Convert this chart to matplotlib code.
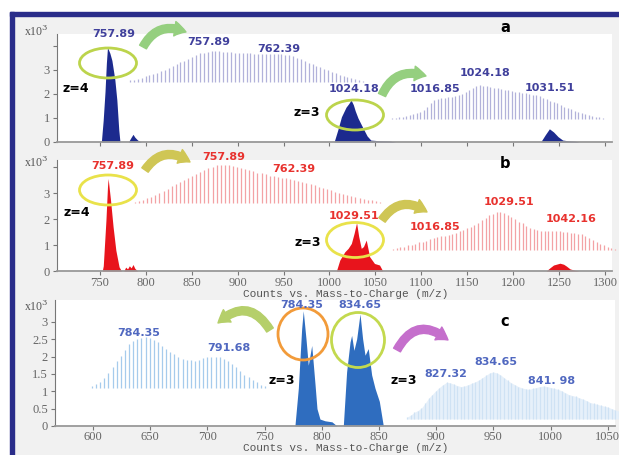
import numpy as np
import matplotlib
matplotlib.use("Agg")
import matplotlib.pyplot as plt
from matplotlib.patches import Ellipse, FancyArrowPatch, Rectangle

W, H = 619, 455

# ---- main spectra (m/z, counts x10^3) ----
a_pk1_mz = [751.5, 753.5, 755.5, 757.0, 758.2, 759.2, 760.8, 763.0, 766.2, 768.4, 770.5, 771.8]
a_pk1_int = [0, 0.9, 2.1, 3.3, 3.95, 3.85, 3.7, 3.4, 2.6, 1.75, 0.5, 0]
a_bump_mz = [781, 784, 786, 788, 791, 795]
a_bump_int = [0, 0.2, 0.32, 0.2, 0.08, 0]
a_pk2_mz = [1005, 1009, 1013, 1018, 1021, 1023.5, 1026, 1028, 1031, 1036.5, 1041, 1045, 1055, 1065, 1072]
a_pk2_int = [0, 0.5, 1.05, 1.45, 1.6, 1.75, 1.55, 1.3, 1.0, 0.58, 0.25, 0.08, 0.05, 0.04, 0]
a_pk3_mz = [1230, 1235, 1239.5, 1244, 1249, 1254, 1260, 1268, 1272]
a_pk3_int = [0, 0.3, 0.55, 0.42, 0.22, 0.08, 0.05, 0.03, 0]

b_pk1_mz = [752.5, 753.6, 756.5, 758.2, 758.9, 761.5, 764.3, 767.3, 770.8, 773.4]
b_pk1_int = [0, 0.2, 1.95, 3.25, 3.56, 2.73, 1.7, 0.8, 0.16, 0]
b_bump_mz = [776, 778, 780, 782, 784, 786, 788, 791]
b_bump_int = [0, 0.15, 0.08, 0.2, 0.12, 0.25, 0.1, 0]
b_pk2_mz = [1007.5, 1011.2, 1016.7, 1020.3, 1023.8, 1026.8, 1029.5, 1031.8, 1034.6, 1037, 1040, 1043.7, 1049, 1054.5, 1058]
b_pk2_int = [0, 0.42, 0.74, 0.87, 1.06, 1.45, 1.86, 1.33, 0.87, 0.94, 1.19, 0.55, 0.29, 0.23, 0]
b_pk3_mz = [1236, 1240, 1244, 1248, 1251, 1255, 1258, 1262, 1267, 1272]
b_pk3_int = [0, 0.12, 0.23, 0.27, 0.3, 0.26, 0.19, 0.08, 0.03, 0]

c_pk1_mz = [776.5, 779.5, 782.4, 783.8, 786.2, 788.2, 791.2, 792.3, 794.1, 795.8, 798.4, 802.8, 808.9, 813.3]
c_pk1_int = [0, 1.09, 2.8, 3.32, 2.51, 1.75, 2.32, 1.9, 1.2, 0.5, 0.2, 0.15, 0.12, 0]
c_pk2_mz = [818.8, 821.7, 824.7, 826.1, 828.1, 830.5, 833.4, 835.7, 837.8, 840.6, 843.6, 846.5, 850.3, 853.8]
c_pk2_int = [0, 1.56, 2.42, 2.61, 2.18, 2.51, 3.23, 2.51, 2.04, 2.23, 1.47, 1.09, 0.71, 0]

# ---- zoomed isotope envelopes (relative %, one value per stick) ----
a_iso1 = [6, 8, 11, 14, 18, 21, 25, 30, 35, 40, 46, 52, 58, 63, 69, 75, 81, 87, 92, 95,
          98, 99, 100, 100, 98, 97, 96, 95, 94, 93, 93, 92, 91, 91, 90, 90, 91, 90, 89, 89,
          88, 87, 84, 79, 73, 67, 62, 57, 52, 48, 43, 38, 33, 28, 24, 20, 16, 12, 9, 6, 4]
a_iso2 = [3, 4, 6, 7, 10, 12, 15, 18, 21, 26, 35, 47, 56, 59, 62, 62, 65, 64, 68, 71,
          74, 79, 85, 91, 97, 100, 98, 96, 94, 92, 90, 88, 86, 84, 82, 80, 79, 77, 76, 74,
          72, 70, 67, 63, 59, 54, 50, 46, 41, 36, 32, 28, 24, 20, 17, 14, 12, 9, 7, 5, 3]
b_iso1 = [3, 5, 8, 12, 16, 21, 26, 32, 38, 45, 50, 55, 61, 66, 71, 76, 82, 87, 92, 96,
          99, 100, 100, 99, 97, 95, 92, 89, 86, 83, 80, 78, 75, 72, 70, 68, 67, 66, 63, 61,
          58, 55, 53, 50, 47, 43, 40, 37, 33, 29, 26, 24, 21, 18, 16, 13, 11, 8, 7, 5, 3]
b_iso2 = [3, 5, 7, 9, 12, 14, 17, 20, 22, 25, 29, 32, 34, 36, 37, 39, 42, 45, 49, 53,
          57, 61, 66, 71, 78, 84, 91, 96, 100, 100, 97, 93, 88, 82, 75, 70, 64, 59, 55, 53,
          51, 50, 49, 49, 49, 49, 47, 47, 46, 46, 43, 41, 37, 32, 26, 21, 16, 12, 8, 5, 3]
c_iso1 = [4, 8, 12, 20, 29, 41, 53, 63, 75, 86, 92, 96, 99, 100, 98, 95, 90, 82, 76, 71,
          66, 61, 57, 55, 54, 53, 55, 58, 60, 61, 61, 60, 57, 53, 47, 41, 33, 26, 21, 16,
          11, 6, 3]
c_iso2 = [4, 8, 14, 18, 23, 33, 44, 52, 60, 67, 73, 78, 77, 74, 71, 69, 70, 73, 76, 79,
          83, 88, 93, 98, 100, 98, 94, 88, 82, 77, 73, 69, 66, 64, 63, 65, 67, 69, 70, 69,
          67, 65, 63, 60, 56, 52, 50, 48, 45, 42, 39, 35, 33, 31, 29, 27, 25, 22, 19, 17]

ab_ticks = list(range(750, 1301, 50))
c_ticks = list(range(600, 1051, 50))
c_yticks = [0, 0.5, 1, 1.5, 2, 2.5, 3]
c_ylabels = ['0', '0.5', '1', '1.5', '2', '2.5', '3']

NAVY = '#1c2a8e'
RED = '#e8141c'
BLUE = '#2f6dbf'


def box(x0, y0, x1, y1):
    return [x0 / W, 1 - y1 / H, (x1 - x0) / W, (y1 - y0) / H]


def ftext(x, y, s, **kw):
    fig.text(x / W, 1 - y / H, s, ha='center', va='center', **kw)


def main_axes(rect, xlim, ylim):
    ax = fig.add_axes(rect)
    ax.set_facecolor('white')
    ax.set_xlim(*xlim)
    ax.set_ylim(*ylim)
    for s in ['top', 'right']:
        ax.spines[s].set_visible(False)
    ax.spines['left'].set_color('#777777')
    ax.spines['bottom'].set_color('#999999')
    ax.spines['bottom'].set_linewidth(1.3)
    ax.tick_params(colors='#777777', labelcolor='#666666', length=3, pad=2)
    return ax


def iso_axes(rect, start, step, vals, color, fill=None):
    ax = fig.add_axes(rect)
    ax.axis('off')
    ax.patch.set_alpha(0)
    mz = start + step * np.arange(len(vals))
    ax.set_xlim(mz[0], mz[-1])
    ax.set_ylim(0, 100)
    if fill is not None:
        ax.fill_between(mz, 0, vals, color=fill, lw=0, clip_on=False)
    ax.vlines(mz, 0, vals, color=color, lw=0.9, clip_on=False)
    return ax


plt.rcParams['font.family'] = 'Liberation Serif'
plt.rcParams['mathtext.fontset'] = 'dejavuserif'

fig = plt.figure(figsize=(W / 100, H / 100), dpi=100, facecolor='white')
fig.add_artist(Rectangle((14 / W, 0), 1, 1 - 16 / H, transform=fig.transFigure,
                         color='#f1f1f1', zorder=-5))
fig.add_artist(Rectangle((10 / W, 1 - 16 / H), 1, 4 / H, transform=fig.transFigure,
                         color='#2a2d8a', zorder=-4))
fig.add_artist(Rectangle((10 / W, 0), 4 / W, 1 - 12 / H, transform=fig.transFigure,
                         color='#2a2d8a', zorder=-4))

ab_xlim = (703.2, 1307.7)
tick_font = dict(fontsize=9, family='Liberation Serif')

# ---- panel a ----
ax_a = main_axes(box(57, 34, 612, 142), ab_xlim, (0, 4.5))
ax_a.set_xticks(ab_ticks)
ax_a.set_xticklabels([])
ax_a.set_yticks([0, 1, 2, 3, 4])
ax_a.set_yticklabels(['0', '1', '2', '3', ''], **tick_font)
for mz, it in [(a_pk1_mz, a_pk1_int), (a_bump_mz, a_bump_int),
               (a_pk2_mz, a_pk2_int), (a_pk3_mz, a_pk3_int)]:
    ax_a.fill_between(mz, 0, it, color=NAVY, lw=0)

# ---- panel b ----
ax_b = main_axes(box(57, 160, 612, 271), ab_xlim, (0, 4.27))
ax_b.set_xticks(ab_ticks)
ax_b.set_xticklabels([str(t) for t in ab_ticks], **tick_font)
ax_b.set_yticks([0, 1, 2, 3, 4])
ax_b.set_yticklabels(['0', '1', '2', '3', ''], **tick_font)
ax_b.tick_params(axis='x', pad=1)
for mz, it in [(b_pk1_mz, b_pk1_int), (b_bump_mz, b_bump_int),
               (b_pk2_mz, b_pk2_int), (b_pk3_mz, b_pk3_int)]:
    ax_b.fill_between(mz, 0, it, color=RED, lw=0)

# ---- panel c ----
ax_c = main_axes(box(55, 300, 615, 426), (566.8, 1056.3), (0, 3.63))
ax_c.set_xticks(c_ticks)
ax_c.set_xticklabels([str(t) for t in c_ticks], **tick_font)
ax_c.set_yticks(c_yticks)
ax_c.set_yticklabels(c_ylabels, **tick_font)
ax_c.tick_params(axis='x', pad=0.5)
for mz, it in [(c_pk1_mz, c_pk1_int), (c_pk2_mz, c_pk2_int)]:
    ax_c.fill_between(mz, 0, it, color=BLUE, lw=0)

# ---- isotope envelopes ----
iso_axes(box(130, 51, 363, 82), 752.4, 0.25, a_iso1, '#b2b2da')
iso_axes(box(392, 85, 603, 119), 1014.0, 1 / 3, a_iso2, '#b2b2da')
iso_axes(box(135, 165, 380, 203), 752.4, 0.25, b_iso1, '#f3a2a5')
iso_axes(box(393, 212, 615, 250), 1020.0, 1 / 3, b_iso2, '#f3a2a5')
iso_axes(box(92, 337, 265, 388), 780.5, 1 / 3, c_iso1, '#a6cbec')
iso_axes(box(407, 372, 619, 419), 822.7, 0.5, c_iso2, '#cfe2f4', fill='#e6f0fa')

# ---- circles and arrows ----
for cx, cy, w, h, col in [(108, 63, 57, 30, '#bcd44c'), (355, 115, 57, 30, '#bcd44c'),
                          (108, 190, 57, 30, '#e9e24a'), (355, 240, 57, 35, '#e9e24a'),
                          (303, 334, 50, 52, '#f29b3a'), (358, 340, 53, 55, '#c3d94e')]:
    fig.add_artist(Ellipse((cx / W, 1 - cy / H), w / W, h / H, transform=fig.transFigure,
                           fill=False, edgecolor=col, lw=2))

style = "Simple,head_length=0.6,head_width=0.75,tail_width=0.4"
for p0, p1, rad, col in [((143, 47), (186, 32), -0.45, '#95cf7f'),
                         ((382, 95), (426, 76), -0.45, '#95cf7f'),
                         ((145, 170), (190, 162), -0.5, '#cfc655'),
                         ((382, 220), (427, 212), -0.5, '#cfc655'),
                         ((270, 330), (218, 323), 0.6, '#b5cf6a'),
                         ((397, 350), (448, 340), -0.6, '#c56fcc')]:
    fig.add_artist(FancyArrowPatch((p0[0] / W, 1 - p0[1] / H), (p1[0] / W, 1 - p1[1] / H),
                                   transform=fig.transFigure, arrowstyle=style,
                                   mutation_scale=14, connectionstyle=f"arc3,rad={rad}",
                                   color=col, shrinkA=0, shrinkB=0))

# ---- text ----
lab = dict(fontsize=8, fontweight='bold', family='DejaVu Sans')
ca, cb, cc = '#40409c', '#e8322e', '#5068c0'
for x, y, s, c in [(114, 34, '757.89', ca), (209, 42, '757.89', ca), (279, 49, '762.39', ca),
                   (354, 89, '1024.18', ca), (435, 89, '1016.85', ca),
                   (485, 73, '1024.18', ca), (550, 88, '1031.51', ca),
                   (113, 166, '757.89', cb), (224, 157, '757.89', cb), (294, 169, '762.39', cb),
                   (354, 216, '1029.51', cb), (435, 227, '1016.85', cb),
                   (509, 202, '1029.51', cb), (571, 219, '1042.16', cb),
                   (302, 305, '784.35', cc), (360, 305, '834.65', cc),
                   (139, 333, '784.35', cc), (229, 348, '791.68', cc),
                   (446, 374, '827.32', cc), (496, 362, '834.65', cc), (552, 381, '841. 98', cc)]:
    ftext(x, y, s, color=c, **lab)

zk = dict(fontsize=9, fontweight='bold', family='DejaVu Sans', color='black')
for x, y, s in [(76, 88, 'z=4'), (307, 112, 'z=3'), (77, 213, 'z=4'), (308, 242, 'z=3'),
                (282, 381, 'z=3'), (404, 380, 'z=3')]:
    ftext(x, y, s, **zk)
for x, y, s in [(505, 27, 'a'), (505, 164, 'b'), (505, 322, 'c')]:
    ftext(x, y, s, fontsize=10.5, fontweight='bold', family='DejaVu Sans', color='black')

for y in [31, 162, 306]:
    ftext(36, y, r'x10$^{3}$', fontsize=8.5, color='#555555', family='Liberation Serif')
for y in [294, 448]:
    ftext(346, y, 'Counts vs. Mass-to-Charge (m/z)', fontsize=8, color='#555555',
          family='Liberation Mono')

fig.savefig('out.png', dpi=100)
